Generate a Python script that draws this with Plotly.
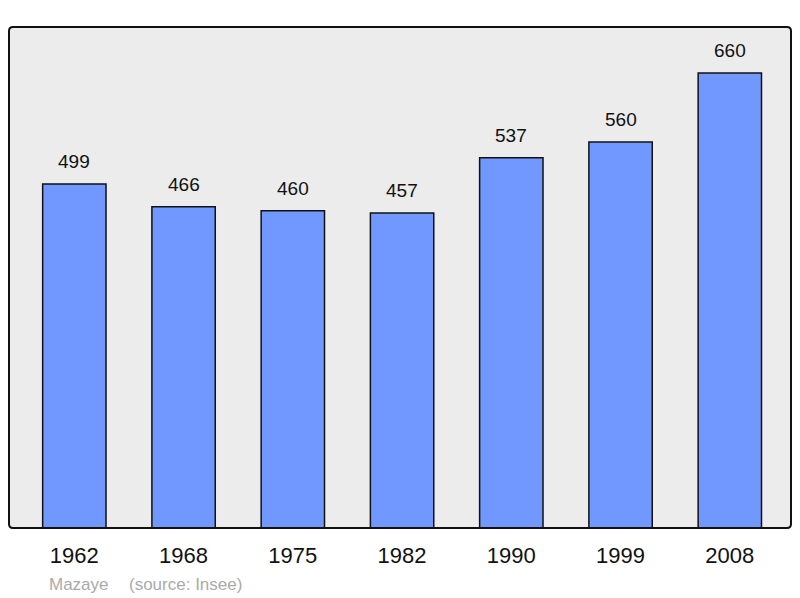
import plotly.graph_objects as go

years = ["1962", "1968", "1975", "1982", "1990", "1999", "2008"]
population = [499, 466, 460, 457, 537, 560, 660]
commune = "Mazaye"
source = "(source: Insee)"

# page body has an 8px margin, so the figure is drawn 8px smaller and offset
OFF = 8
W, H = 800 - OFF, 598 - OFF
L, R, T, B = 9 - OFF, 9, 27 - OFF, 70
PW, PH = W - L - R, H - T - B
FONT = "Liberation Sans, Arial"

fig = go.Figure()
fig.add_trace(go.Bar(
    x=list(range(len(years))), y=population,
    width=0.58,
    marker=dict(color="#7098ff", line=dict(color="#111111", width=1.5)),
    hoverinfo="skip",
))

for i, v in enumerate(population):
    fig.add_annotation(x=i, y=v, text=str(v), showarrow=False,
                       yanchor="bottom", yshift=10,
                       font=dict(family=FONT, size=19, color="#111111"))

# rounded frame around plot area (paper coordinates)
rx, ry = 4 / PW, 4 / PH
path = (f"M {rx},0 L {1-rx},0 Q 1,0 1,{ry} L 1,{1-ry} Q 1,1 {1-rx},1 "
        f"L {rx},1 Q 0,1 0,{1-ry} L 0,{ry} Q 0,0 {rx},0 Z")
fig.add_shape(type="path", path=path, xref="paper", yref="paper",
              line=dict(color="#111111", width=2), layer="above")

src_y = -(584 - 528) / PH
fig.add_annotation(xref="paper", yref="paper", x=(47 - 9) / PW,
                   y=src_y, text=commune, showarrow=False,
                   xanchor="left", yanchor="middle",
                   font=dict(family=FONT, size=17, color="#aaaaaa"))
fig.add_annotation(xref="paper", yref="paper", x=(127 - 9) / PW,
                   y=src_y, text=source, showarrow=False,
                   xanchor="left", yanchor="middle",
                   font=dict(family=FONT, size=17, color="#aaaaaa"))

fig.update_layout(
    width=W, height=H,
    margin=dict(l=L, r=R, t=T, b=B, pad=0),
    paper_bgcolor="white", plot_bgcolor="#ececec",
    showlegend=False,
    xaxis=dict(tickmode="array", tickvals=list(range(len(years))), ticktext=years,
               range=[-0.598, 6.56], showgrid=False, zeroline=False,
               ticks="", ticklabelstandoff=12,
               tickfont=dict(family=FONT, size=22, color="#111111")),
    yaxis=dict(range=[0, 726.7], showgrid=False, zeroline=False,
               showticklabels=False, ticks=""),
)

fig.write_html("out.html")
